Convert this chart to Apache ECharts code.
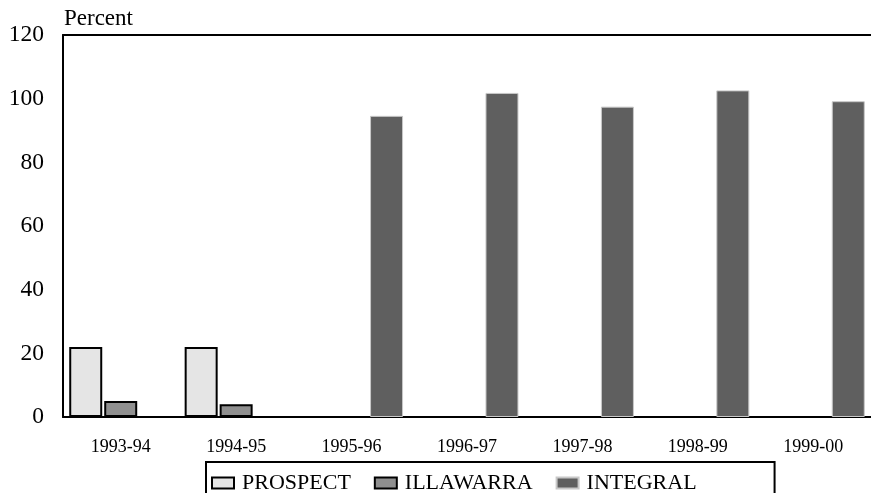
<!DOCTYPE html>
<html>
<head>
<meta charset="utf-8">
<script src="https://cdn.jsdelivr.net/npm/echarts@6/dist/echarts.min.js"></script>
<style>
html,body{margin:0;padding:0;background:#fff;}
#chart{width:871px;height:493px;}
</style>
</head>
<body>
<div id="chart"></div>
<script>
var categories = ['1993-94','1994-95','1995-96','1996-97','1997-98','1998-99','1999-00'];
var prospect = [22, 22, null, null, null, null, null];
var illawarra = [5, 4, null, null, null, null, null];
var integral = [null, null, 94.6, 101.8, 97.5, 102.6, 99.2];
var yTicks = [0, 20, 40, 60, 80, 100, 120];

var serif = '"Liberation Serif", "Times New Roman", serif';
var chart = echarts.init(document.getElementById('chart'));
chart.setOption({
  animation: false,
  backgroundColor: '#fff',
  title: {
    text: 'Percent', left: 59, top: 2,
    textStyle: {fontFamily: serif, fontSize: 23, fontWeight: 'normal', color: '#000'}
  },
  grid: {left: 63, top: 35, right: 0, bottom: 76},
  legend: {
    left: 206, top: 462,
    padding: [10, 78, 30, 5],
    borderColor: '#000', borderWidth: 2,
    icon: 'rect',
    itemWidth: 22, itemHeight: 11, itemGap: 23,
    textStyle: {fontFamily: serif, fontSize: 22, color: '#000', padding: [0, 0, 0, 3]},
    data: ['PROSPECT', 'ILLAWARRA', 'INTEGRAL']
  },
  xAxis: [{
    type: 'category', data: categories,
    axisLine: {lineStyle: {color: '#000', width: 2}},
    axisTick: {show: false},
    axisLabel: {fontFamily: serif, fontSize: 18, color: '#000', margin: 21}
  }, {
    type: 'category', data: categories, position: 'top',
    axisLine: {show: true, lineStyle: {color: '#000', width: 2}},
    axisTick: {show: false},
    axisLabel: {show: false}
  }],
  yAxis: {
    type: 'value', min: yTicks[0], max: yTicks[yTicks.length - 1], interval: 20,
    axisLine: {show: true, lineStyle: {color: '#000', width: 2}},
    axisTick: {show: false},
    splitLine: {show: false},
    axisLabel: {fontFamily: serif, fontSize: 23.5, color: '#000', margin: 19}
  },
  series: [
    {name: 'PROSPECT', type: 'bar', data: prospect, barWidth: 33, barGap: '6%',
     itemStyle: {color: '#e5e5e5', borderColor: '#000', borderWidth: 2}},
    {name: 'ILLAWARRA', type: 'bar', data: illawarra, barWidth: 33, barGap: '6%',
     itemStyle: {color: '#8f8f8f', borderColor: '#000', borderWidth: 2}},
    {name: 'INTEGRAL', type: 'bar', data: integral, barWidth: 33, barGap: '6%',
     itemStyle: {color: '#5f5f5f', borderColor: '#c8c8c8', borderWidth: 1}}
  ]
});
</script>
</body>
</html>
